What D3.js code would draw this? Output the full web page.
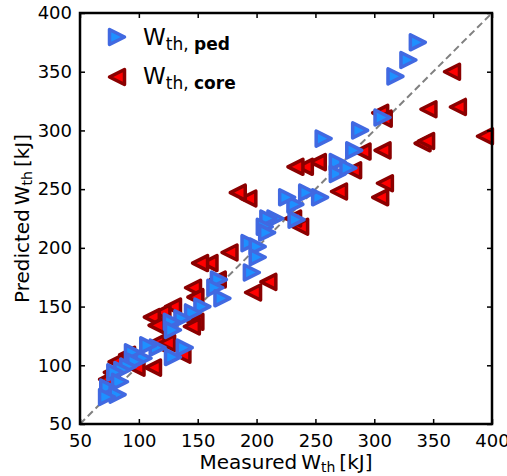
<!DOCTYPE html>
<html><head><meta charset="utf-8">
<script src="https://d3js.org/d3.v7.min.js"></script>
<style>body{margin:0;background:#fff}svg{display:block}text{font-family:"DejaVu Sans",sans-serif}</style>
</head><body>
<script>
const xTicks=[50,100,150,200,250,300,350,400];
const yTicks=[50,100,150,200,250,300,350,400];
const pedX=[337,329,318,307,288,283,257,269,269,278,254,243,233,226,234,216,210,207,209,194,201,201,196,168,165,171,154,146,137,128,129,139,129,116,108,104,95,97,91,86,80,84,74,82,73];
const pedY=[375,360,346,311,300,283,293,273,263,268,243,247,237,243,224,225,225,218,213,204,201,192,179,173,166,157,150,145,140,137,130,115,107,115,117,106,111,103,99,96,94,86,81,75,73];
const coreX=[366,346,371,305,308,394,341,344,307,290,282,309,305,270,252,241,233,237,231,193,184,177,160,152,146,148,167,210,197,148,129,120,111,115,145,122,115,124,137,112,98,90,81,77,73];
const coreY=[350,318,320,315,310,295,289,291,283,282,266,255,243,248,273,269,269,218,225,242,247,196,187,187,166,158,173,171,162,137,150,145,141,134,133,122,119,119,109,98,98,109,103,94,88];

const W=507,H=476,L=80,R=492,T=13,B=424;
const svg=d3.select("body").append("svg").attr("width",W).attr("height",H);
const x=d3.scaleLinear().domain([50,400]).range([L,R]);
const y=d3.scaleLinear().domain([50,400]).range([B,T]);

// diagonal
svg.append("line").attr("x1",x(50)).attr("y1",y(50)).attr("x2",x(400)).attr("y2",y(400))
  .attr("stroke","#808080").attr("stroke-width",2).attr("stroke-dasharray","7,4");

const s=7.5;
const triR=`M${s},0L${-s},${-s}L${-s},${s}Z`;
const triL=`M${-s},0L${s},${-s}L${s},${s}Z`;
const core=coreX.map((v,i)=>[v,coreY[i]]);
const ped=pedX.map((v,i)=>[v,pedY[i]]);
const sw=3.5;
svg.append("g").selectAll("path").data(core).join("path").attr("d",triL)
  .attr("transform",d=>`translate(${x(d[0])},${y(d[1])})`)
  .attr("fill","#ff0000").attr("stroke","#8b0000").attr("stroke-width",sw).attr("stroke-linejoin","round");
svg.append("g").selectAll("path").data(ped).join("path").attr("d",triR)
  .attr("transform",d=>`translate(${x(d[0])},${y(d[1])})`)
  .attr("fill","#1e90ff").attr("stroke","#4169e1").attr("stroke-width",sw).attr("stroke-linejoin","round");

// axes
const fs=18;
const ax=d3.axisBottom(x).tickValues(xTicks).tickSize(-5).tickPadding(9).tickFormat(d3.format("d"));
const ay=d3.axisLeft(y).tickValues(yTicks).tickSize(-5).tickPadding(8).tickFormat(d3.format("d"));
const gx=svg.append("g").attr("transform",`translate(0,${B})`).call(ax);
const gy=svg.append("g").attr("transform",`translate(${L},0)`).call(ay);
const gxt=svg.append("g").attr("transform",`translate(0,${T})`).call(d3.axisTop(x).tickValues(xTicks).tickSize(-5).tickFormat(""));
const gyr=svg.append("g").attr("transform",`translate(${R},0)`).call(d3.axisRight(y).tickValues(yTicks).tickSize(-5).tickFormat(""));
[gx,gy,gxt,gyr].forEach(g=>{g.select(".domain").remove();g.selectAll(".tick line").attr("stroke","#000").attr("stroke-width",1.5);
  g.selectAll("text").attr("font-size",fs).attr("fill","#000").attr("font-family","DejaVu Sans");});
gx.selectAll("text").attr("dy","0.75em");
svg.append("rect").attr("x",L).attr("y",T).attr("width",R-L).attr("height",B-T)
  .attr("fill","none").attr("stroke","#000").attr("stroke-width",2.5);

// labels
function wlabel(t,pre,post,size){
  t.append("tspan").text(pre);
  t.append("tspan").attr("font-size",size*0.7).attr("dy",3).text("th");
  t.append("tspan").attr("dy",-3).text(post);
}
const xl=svg.append("text").attr("x",(L+R)/2).attr("y",469).attr("text-anchor","middle").attr("font-size",20);
wlabel(xl,"Measured\u2009W","\u2009[kJ]",20);
const yl=svg.append("text").attr("transform",`translate(29,${(T+B)/2}) rotate(-90)`).attr("text-anchor","middle").attr("font-size",20);
wlabel(yl,"Predicted\u2009W","\u2009[kJ]",20);

// legend
const leg=[{p:triR,f:"#1e90ff",s:"#4169e1",lab:"ped",cy:37,by:45},{p:triL,f:"#ff0000",s:"#8b0000",lab:"core",cy:77,by:84}];
leg.forEach(d=>{
  svg.append("path").attr("d",d.p).attr("transform",`translate(117,${d.cy})`).attr("fill",d.f).attr("stroke",d.s).attr("stroke-width",sw).attr("stroke-linejoin","round");
  const t=svg.append("text").attr("x",143).attr("y",d.by).attr("font-size",23);
  t.append("tspan").text("W");
  t.append("tspan").attr("font-size",17).attr("dy",5).text("th, ");
  t.append("tspan").attr("font-size",17).attr("font-weight","bold").text(d.lab);
});
</script>
</body></html>
